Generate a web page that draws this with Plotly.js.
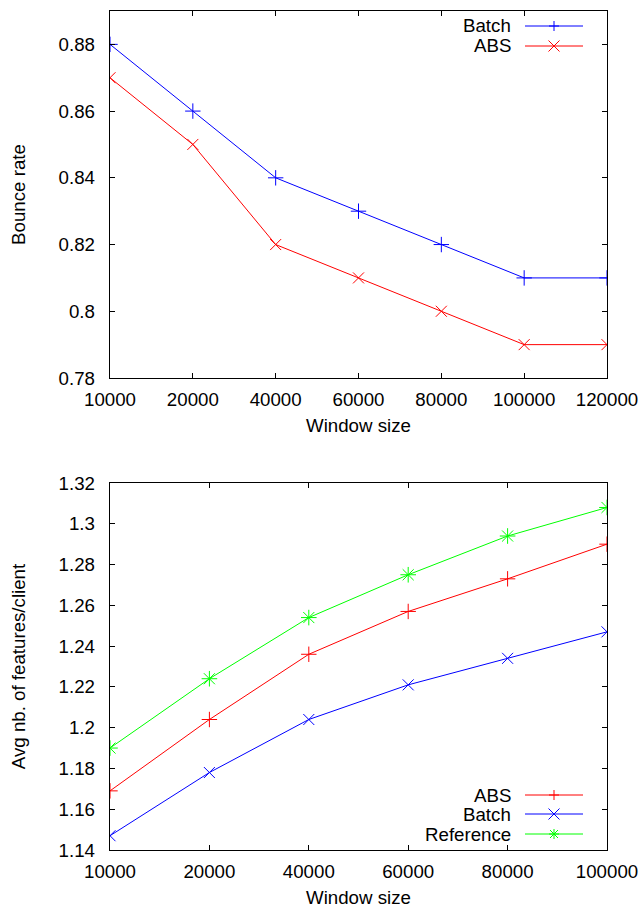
<!DOCTYPE html>
<html>
<head>
<meta charset="utf-8">
<script src="https://cdn.plot.ly/plotly-3.0.1.min.js"></script>
<style>html,body{margin:0;padding:0;background:#fff;}#chart{width:642px;height:909px;}</style>
</head>
<body>
<div id="chart"></div>
<script>
// ---- data ----
const windowSizesTop = ['10000','20000','40000','60000','80000','100000','120000'];
const bounceBatch = [0.88, 0.86, 0.84, 0.83, 0.82, 0.81, 0.81];
const bounceABS   = [0.87, 0.85, 0.82, 0.81, 0.80, 0.79, 0.79];

const windowSizesBottom = ['10000','20000','40000','60000','80000','100000'];
const featABS       = [1.169, 1.204, 1.236, 1.257, 1.273, 1.290];
const featBatch     = [1.147, 1.178, 1.204, 1.221, 1.234, 1.247];
const featReference = [1.190, 1.224, 1.254, 1.275, 1.294, 1.308];

const topTicks = ['0.78','0.8','0.82','0.84','0.86','0.88'];
const bottomTicks = ['1.14','1.16','1.18','1.2','1.22','1.24','1.26','1.28','1.3','1.32'];

// ---- styling ----
const BLUE = '#0000ff', RED = '#ff0000', GREEN = '#00ff00';
const FONT = 'Liberation Sans, Arial, sans-serif';
const FS = 18.7;

function mk(symbol, color, size) {
  return {symbol: symbol, size: size, color: color, line: {color: color, width: 1}};
}

const traces = [
  {x: windowSizesTop, y: bounceBatch, name: 'Batch', type: 'scatter', mode: 'lines+markers',
   line: {color: BLUE, width: 1}, marker: mk('cross-thin', BLUE, 11), xaxis: 'x', yaxis: 'y'},
  {x: windowSizesTop, y: bounceABS, name: 'ABS', type: 'scatter', mode: 'lines+markers',
   line: {color: RED, width: 1}, marker: mk('x-thin', RED, 11), xaxis: 'x', yaxis: 'y'},
  {x: windowSizesBottom, y: featABS, name: 'ABS', type: 'scatter', mode: 'lines+markers',
   line: {color: RED, width: 1}, marker: mk('cross-thin', RED, 11), xaxis: 'x2', yaxis: 'y2'},
  {x: windowSizesBottom, y: featBatch, name: 'Batch', type: 'scatter', mode: 'lines+markers',
   line: {color: BLUE, width: 1}, marker: mk('x-thin', BLUE, 11), xaxis: 'x2', yaxis: 'y2'},
  {x: windowSizesBottom, y: featReference, name: 'Reference', type: 'scatter', mode: 'lines+markers',
   line: {color: GREEN, width: 1}, marker: mk('asterisk', GREEN, 13), xaxis: 'x2', yaxis: 'y2'}
];

// plot frame in pixels
const L = 110, R = 607, T = 11, B = 850, W = 642, H = 909;
const PW = R - L, PH = B - T;
const px = v => (v - L) / PW;
const py = v => (B - v) / PH;

function xaxisDef(cats, anchor) {
  return {
    type: 'category', categoryorder: 'array', categoryarray: cats,
    range: [0, cats.length - 1], anchor: anchor,
    showline: true, linecolor: '#000', linewidth: 1.3, mirror: 'allticks',
    ticks: 'inside', ticklen: 5, tickwidth: 1, tickcolor: '#000',
    showgrid: false, zeroline: false, ticklabelstandoff: 4,
    tickfont: {family: FONT, size: FS, color: '#000'},
    title: {text: 'Window size', font: {family: FONT, size: FS, color: '#000'}, standoff: 10}
  };
}
function yaxisDef(range, ticks, domain, anchor, title) {
  return {
    range: range, domain: domain, anchor: anchor,
    tickmode: 'array', tickvals: ticks.map(Number), ticktext: ticks,
    showline: true, linecolor: '#000', linewidth: 1.3, mirror: 'allticks',
    ticks: 'inside', ticklen: 5, tickwidth: 1, tickcolor: '#000',
    showgrid: false, zeroline: false, ticklabelstandoff: 10,
    tickfont: {family: FONT, size: FS, color: '#000'},
    title: {text: title, font: {family: FONT, size: FS, color: '#000'}, standoff: 28}
  };
}

const topDomain = [py(378), 1];
const botDomain = [0, py(483)];

// custom gnuplot-style legend (text left, sample right)
const shapes = [], annotations = [];
function legendRow(label, color, sym, yPix) {
  annotations.push({xref: 'paper', yref: 'paper', x: px(513), y: py(yPix), xanchor: 'right', yanchor: 'middle',
    text: label, showarrow: false, font: {family: FONT, size: FS, color: '#000'}});
  shapes.push({type: 'line', xref: 'paper', yref: 'paper', x0: px(525), x1: px(583), y0: py(yPix), y1: py(yPix),
    line: {color: color, width: 1}});
  const cx = 554, s = 5, d = 5.5;
  if (sym === 'plus' || sym === 'star') {
    shapes.push({type: 'line', xref: 'paper', yref: 'paper', x0: px(cx), x1: px(cx), y0: py(yPix - s), y1: py(yPix + s), line: {color: color, width: 1}});
    shapes.push({type: 'line', xref: 'paper', yref: 'paper', x0: px(cx - s), x1: px(cx + s), y0: py(yPix), y1: py(yPix), line: {color: color, width: 1}});
  }
  if (sym === 'x' || sym === 'star') {
    const e = sym === 'star' ? 4 : d;
    shapes.push({type: 'line', xref: 'paper', yref: 'paper', x0: px(cx - e), x1: px(cx + e), y0: py(yPix - e), y1: py(yPix + e), line: {color: color, width: 1}});
    shapes.push({type: 'line', xref: 'paper', yref: 'paper', x0: px(cx - e), x1: px(cx + e), y0: py(yPix + e), y1: py(yPix - e), line: {color: color, width: 1}});
  }
}
legendRow('Batch', BLUE, 'plus', 26);
legendRow('ABS', RED, 'x', 46);
legendRow('ABS', RED, 'plus', 795);
legendRow('Batch', BLUE, 'x', 814);
legendRow('Reference', GREEN, 'star', 834);

const layout = {
  width: W, height: H,
  margin: {l: L, r: W - R, t: T, b: H - B},
  paper_bgcolor: '#fff', plot_bgcolor: '#fff',
  showlegend: false,
  font: {family: FONT, size: FS, color: '#000'},
  xaxis: xaxisDef(windowSizesTop, 'y'),
  yaxis: yaxisDef([0.78, 0.89], topTicks, topDomain, 'x', 'Bounce rate'),
  xaxis2: xaxisDef(windowSizesBottom, 'y2'),
  yaxis2: yaxisDef([1.14, 1.32], bottomTicks, botDomain, 'x2', 'Avg nb. of features/client'),
  shapes: shapes, annotations: annotations
};

Plotly.newPlot('chart', traces, layout, {displayModeBar: false, staticPlot: true});
</script>
</body>
</html>
